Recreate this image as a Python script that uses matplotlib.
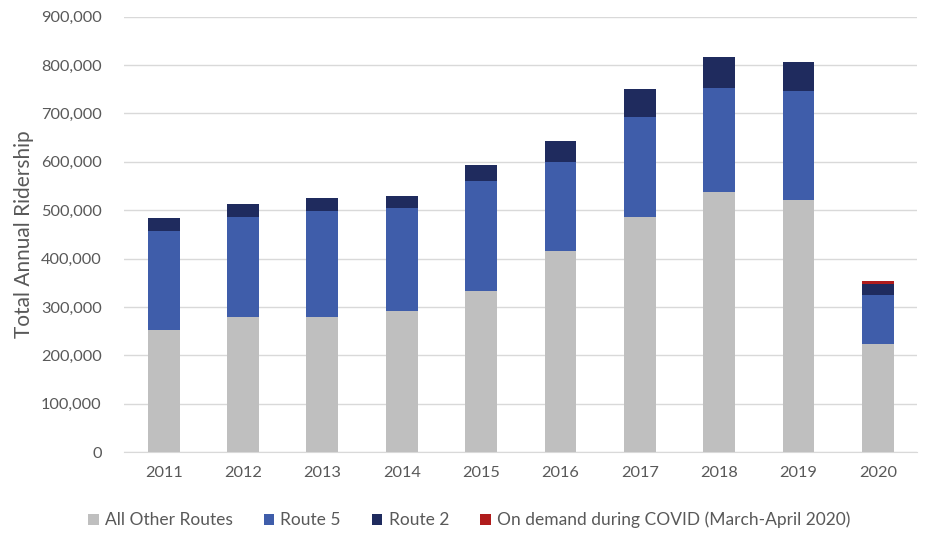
import matplotlib.pyplot as plt
import numpy as np
from matplotlib.ticker import FuncFormatter

plt.rcParams['font.family'] = ['Lato', 'DejaVu Sans']

years = ['2011', '2012', '2013', '2014', '2015', '2016', '2017', '2018', '2019', '2020']
all_other = [253000, 280000, 280000, 291000, 333000, 415000, 487000, 538000, 521000, 224000]
route5 = [205000, 207000, 219000, 213000, 228000, 185000, 205000, 214000, 226000, 101000]
route2 = [26000, 26000, 26000, 26000, 32000, 42000, 58000, 64000, 60000, 23000]
on_demand = [0, 0, 0, 0, 0, 0, 0, 0, 0, 6000]

series = [
    ('All Other Routes', all_other, '#BFBFBF'),
    ('Route 5', route5, '#3F5DAA'),
    ('Route 2', route2, '#1F2B5E'),
    ('On demand during COVID (March-April 2020)', on_demand, '#B01C1C'),
]

text_col = '#595959'

fig = plt.figure(figsize=(9.29, 5.34), dpi=100)
ax = fig.add_axes([0.1335, 0.153, 0.854, 0.816])

# stacked bars, bottom series first
x = np.arange(len(years))
bottom = np.zeros(len(years))
handles = []
for name, vals, col in series:
    vals = np.array(vals, dtype=float)
    b = ax.bar(x, vals, 0.4, bottom=bottom, color=col, label=name, zorder=3)
    handles.append(b)
    bottom += vals

ax.set_xlim(-0.5, 9.5)
ax.set_ylim(0, 900000)
ax.set_yticks(np.arange(0, 900001, 100000))
ax.yaxis.set_major_formatter(FuncFormatter(lambda v, p: f'{int(v):,}'))
ax.set_xticks(x)
ax.set_xticklabels(years)
ax.grid(axis='y', color='#D9D9D9', linewidth=1, zorder=0)
for s in ['top', 'right', 'left']:
    ax.spines[s].set_visible(False)
ax.spines['bottom'].set_color('#D9D9D9')
ax.tick_params(length=0, labelsize=11.8, colors=text_col)
ax.tick_params(axis='x', pad=10)
ax.tick_params(axis='y', pad=16)
ax.set_ylabel('Total Annual Ridership', fontsize=15, color=text_col)
ax.yaxis.set_label_coords(-0.114, 0.5)

fig.legend(handles=handles, loc='center', bbox_to_anchor=(0.505, 0.026), ncol=4,
           frameon=False, fontsize=12.5, labelcolor=text_col, handlelength=0.6,
           handleheight=0.6, handletextpad=0.35, columnspacing=1.8)

fig.savefig('out.png', dpi=100)
